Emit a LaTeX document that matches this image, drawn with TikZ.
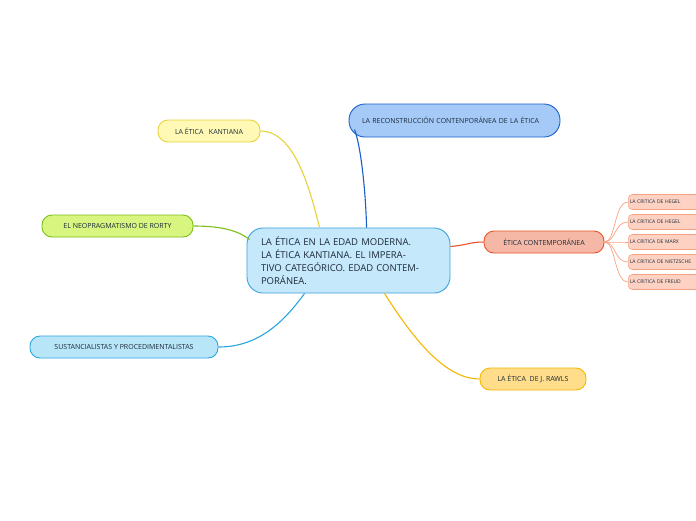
\documentclass[tikz,border=0pt]{standalone}
\usepackage{fontspec}
\setmainfont{Open Sans}
\usetikzlibrary{calc}
\definecolor{txt}{HTML}{1B2A3A}
\definecolor{kidf}{HTML}{FDD2C2}
\definecolor{kidd}{HTML}{F9A384}
\definecolor{cf}{HTML}{C5E8FA}\definecolor{cd}{HTML}{3BA3E0}
\definecolor{rf}{HTML}{A6CAF8}\definecolor{rd}{HTML}{1A5FC8}
\definecolor{kf}{HTML}{FFF9B5}\definecolor{kd}{HTML}{E8D23A}
\definecolor{rof}{HTML}{D8F580}\definecolor{rod}{HTML}{7DBF1A}
\definecolor{sf}{HTML}{B8E6F8}\definecolor{sd}{HTML}{2AA6E0}
\definecolor{raf}{HTML}{FFDD8A}\definecolor{rad}{HTML}{F5B800}
\definecolor{ecf}{HTML}{F5B8A6}\definecolor{ecd}{HTML}{E8532A}
\tikzset{
 box/.style={draw, line width=0.9pt, rounded corners=#1, inner sep=0pt, text=txt, font=\fontsize{7}{9}\selectfont},
 box/.default=10pt,
 lnk/.style={line width=1.1pt},
 kid/.style={box=4pt, fill=kidf, draw=kidd, line width=0.6pt, minimum height=15pt, minimum width=75pt, anchor=west, text width=72pt, align=left, font=\fontsize{5}{6}\selectfont}
}
\begin{document}
\begin{tikzpicture}[x=1pt,y=-1pt]
\useasboundingbox (0,0) rectangle (696,520);
\clip (0,0) rectangle (696,520);
\fill[white] (0,0) rectangle (696,520);
% nodes
\node[box=16pt, fill=cf, draw=cd, minimum width=203pt, minimum height=65pt, text width=175pt, align=left, font=\fontsize{9.5}{13}\selectfont] (c) at (348.5,260.5) {LA ÉTICA EN LA EDAD MODERNA. LA ÉTICA KANTIANA. EL IMPERATIVO CATEGÓRICO. EDAD CONTEMPORÁNEA.};
\node[box=16pt, fill=rf, draw=rd, minimum width=211pt, minimum height=33pt, text width=185pt, align=left] (r) at (454.5,120.5) {LA RECONSTRUCCIÓN CONTENPORÁNEA DE LA ÉTICA};
\node[box, fill=kf, draw=kd, minimum width=102pt, minimum height=22pt] (k) at (209,131) {LA ÉTICA \ \ KANTIANA};
\node[box, fill=rof, draw=rod, minimum width=151pt, minimum height=22pt] (ro) at (117.5,226) {EL NEOPRAGMATISMO DE RORTY};
\node[box, fill=sf, draw=sd, minimum width=188pt, minimum height=22pt] (s) at (124,347) {SUSTANCIALISTAS Y PROCEDIMENTALISTAS};
\node[box, fill=raf, draw=rad, minimum width=106pt, minimum height=22pt] (ra) at (533,379) {LA ÉTICA \ DE J. RAWLS};
\node[box, fill=ecf, draw=ecd, minimum width=120pt, minimum height=22pt] (ec) at (544,242) {ÉTICA CONTEMPORÁNEA};
\node[kid] (k1) at (628,202) {LA CRITICA DE HEGEL};
\node[kid] (k2) at (628,222) {LA CRITICA DE HEGEL};
\node[kid] (k3) at (628,242) {LA CRITICA DE MARX};
\node[kid] (k4) at (628,262) {LA CRITICA DE NIETZSCHE};
\node[kid] (k5) at (628,282) {LA CRITICA DE FREUD};
% connectors
\draw[lnk, draw=kd] (k.east) .. controls (295,131) and (310,190) .. ($(c.north west)+(73,0)$);
\draw[lnk, draw=rd] ($(r.south west)+(6,-8)$) .. controls (362,150) and (366,200) .. ($(c.north west)+(120,0)$);
\draw[lnk, draw=rod] (ro.east) .. controls (225,226) and (240,232) .. ($(c.north west)+(3,12)$);
\draw[lnk, draw=sd] (s.east) .. controls (260,347) and (285,320) .. ($(c.south west)+(58,0)$);
\draw[lnk, draw=rad] ($(c.south west)+(138,0)$) .. controls (420,350) and (450,379) .. (ra.west);
\draw[lnk, draw=ecd] ($(c.east)+(0,-14)$) .. controls (468,245) and (470,242) .. (ec.west);
\foreach \i in {1,...,5}{
 \draw[line width=0.7pt, draw=kidd] (ec.east) .. controls (616,242) and (614,\i*20+182) .. (k\i.west);
}
\end{tikzpicture}
\end{document}
